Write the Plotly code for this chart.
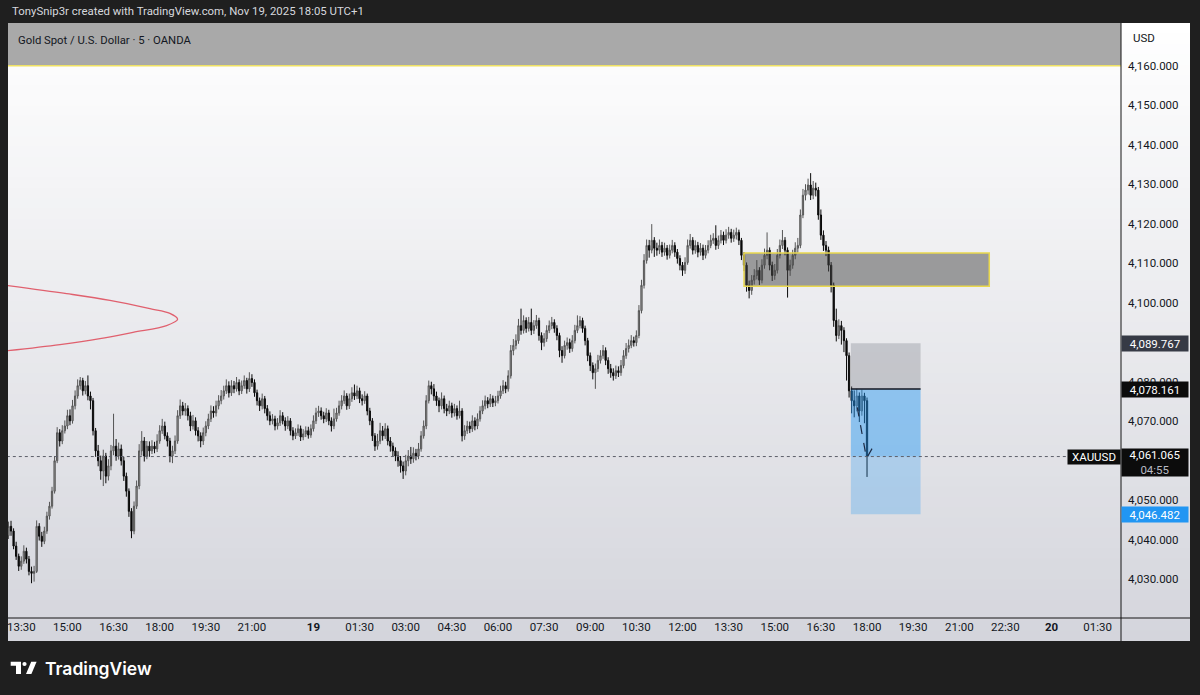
import plotly.graph_objects as go

# ---------------- data (5-minute XAUUSD candles, Nov 18 13:05 -> Nov 19 18:00, UTC+1) ----------------
opens = [
4041.0, 4043.4, 4042.2, 4038.4, 4035.8, 4033.3, 4034.6, 4037.1, 4035.1, 4032.0,
4031.5, 4032.0, 4043.4, 4040.9, 4039.6, 4042.2, 4046.0, 4048.5, 4052.3, 4060.0,
4067.1, 4065.0, 4067.6, 4068.8, 4071.4, 4070.1, 4073.9, 4076.4, 4079.0, 4080.3,
4077.7, 4079.0, 4076.4, 4075.2, 4067.6, 4062.5, 4060.0, 4057.4, 4061.2, 4056.1,
4058.7, 4062.5, 4063.7, 4061.2, 4063.0, 4060.0, 4056.1, 4052.3, 4047.2, 4042.2,
4048.5, 4053.6, 4062.5, 4065.0, 4061.2, 4063.7, 4062.5, 4063.7, 4063.0, 4065.0,
4067.6, 4068.8, 4066.3, 4065.0, 4061.2, 4062.5, 4065.0, 4071.4, 4073.9, 4072.6,
4073.2, 4071.4, 4068.8, 4070.1, 4067.6, 4066.3, 4065.0, 4067.1, 4068.8, 4070.6,
4072.6, 4072.1, 4073.9, 4075.2, 4076.4, 4077.7, 4079.0, 4077.2, 4079.0, 4078.2,
4079.8, 4077.7, 4079.0, 4080.3, 4078.2, 4080.8, 4079.8, 4077.2, 4075.2, 4073.9,
4075.7, 4073.2, 4071.4, 4070.1, 4070.6, 4068.8, 4069.6, 4071.4, 4070.1, 4068.8,
4070.1, 4067.6, 4066.3, 4067.1, 4068.1, 4066.0, 4066.8, 4067.6, 4066.5,
4068.1, 4070.1, 4072.1, 4072.6, 4071.4, 4070.6, 4072.1, 4070.1, 4068.8, 4070.6,
4072.1, 4073.9, 4075.2, 4076.4, 4073.9, 4075.7, 4077.2, 4076.4, 4077.7, 4075.7,
4075.2, 4076.4, 4072.6, 4070.1, 4066.3, 4063.7, 4065.0, 4067.6, 4066.3, 4068.1,
4065.0, 4063.7, 4062.5, 4061.2, 4060.0, 4058.7, 4057.4, 4060.0, 4061.2, 4060.5,
4061.9, 4061.2, 4063.0, 4066.3, 4068.8, 4075.2, 4079.0, 4078.2, 4076.4, 4075.2,
4073.9, 4075.7, 4073.2, 4072.6, 4073.9, 4072.1, 4073.2, 4071.4, 4072.6, 4066.3,
4067.6, 4068.8, 4068.1, 4070.1, 4068.8, 4070.6, 4072.6, 4073.9, 4075.2, 4074.4,
4075.7, 4074.7, 4075.2, 4076.4, 4077.7, 4079.0, 4078.2, 4081.5, 4087.9, 4089.2,
4090.4, 4094.2, 4093.0, 4095.5, 4093.5, 4095.0, 4093.0, 4094.2, 4095.5, 4091.7,
4089.9, 4090.9, 4093.0, 4094.2, 4095.0, 4093.5, 4091.7, 4087.9, 4086.6, 4089.2,
4089.9, 4088.4, 4090.4, 4093.0, 4094.2, 4095.5, 4093.5, 4090.4, 4086.6, 4084.1,
4082.3, 4083.3, 4085.4, 4086.6, 4087.9, 4085.4, 4083.3, 4082.3, 4081.5, 4082.8,
4082.3, 4084.1, 4086.6, 4088.4, 4089.2, 4090.4, 4089.9, 4091.7, 4098.0, 4104.4,
4110.7, 4114.5, 4113.3, 4115.8, 4113.8, 4113.3, 4114.5, 4112.8, 4113.8, 4112.0,
4113.3, 4114.5, 4112.8, 4111.2, 4109.5, 4108.2, 4110.2, 4114.5, 4115.8, 4113.3,
4114.5, 4112.8, 4113.8, 4112.0, 4113.3, 4114.5, 4115.8, 4116.3, 4114.5, 4115.8,
4117.1, 4115.8, 4117.1, 4117.8, 4116.3, 4117.1, 4117.8, 4115.8, 4112.0, 4109.5,
4104.4, 4103.1, 4105.7, 4106.9, 4108.2, 4105.7, 4109.5, 4112.0, 4113.3, 4109.5,
4106.9, 4108.2, 4112.0, 4114.5, 4115.8, 4113.3, 4108.2, 4109.5, 4112.0, 4113.8,
4114.5, 4122.2, 4127.2, 4128.5, 4129.8, 4127.2, 4129.0, 4128.5, 4122.2, 4117.1,
4114.5, 4113.3, 4109.5, 4104.4, 4095.5, 4091.7, 4094.2, 4093.0, 4090.4, 4086.6,
4077.7, 4075.2, 4073.9, 4076.4, 4072.6, 4076.4, 4075.2,
]
highs = [
4044.6, 4044.8, 4042.9, 4039.5, 4036.5, 4035.8, 4038.6, 4038.0, 4035.9, 4033.2,
4033.4, 4044.9, 4044.2, 4042.0, 4043.3, 4047.1, 4049.6, 4053.4, 4061.2, 4068.5,
4068.0, 4069.0, 4070.2, 4072.9, 4073.0, 4075.4, 4077.8, 4080.6, 4081.2, 4081.0,
4080.2, 4081.6, 4077.5, 4075.9, 4068.3, 4064.0, 4061.3, 4062.8, 4062.0, 4060.4,
4064.0, 4071.9, 4065.5, 4064.6, 4064.1, 4061.0, 4057.0, 4053.0, 4048.0, 4049.7,
4055.0, 4064.2, 4067.5, 4066.0, 4065.0, 4064.9, 4065.2, 4064.8, 4066.7, 4069.0,
4070.6, 4069.9, 4067.2, 4065.8, 4063.8, 4066.4, 4072.8, 4075.5, 4074.9, 4074.6,
4074.0, 4072.4, 4071.6, 4071.0, 4068.5, 4067.2, 4068.4, 4070.0, 4071.9, 4074.0,
4073.8, 4075.2, 4076.6, 4077.9, 4079.0, 4080.6, 4080.1, 4080.4, 4080.2, 4081.2,
4080.6, 4080.3, 4081.6, 4081.0, 4082.4, 4081.9, 4080.6, 4078.0, 4076.0, 4077.0,
4076.4, 4074.1, 4072.5, 4071.8, 4071.4, 4070.8, 4072.8, 4072.3, 4071.0, 4071.3,
4070.8, 4068.5, 4068.2, 4069.2, 4068.9, 4068.0, 4068.7, 4068.6, 4069.2,
4071.5, 4073.4, 4073.9, 4073.5, 4072.4, 4073.3, 4072.9, 4071.0, 4073.2, 4073.4,
4075.2, 4076.6, 4077.8, 4077.1, 4077.0, 4078.6, 4079.3, 4079.0, 4078.5, 4076.8,
4077.6, 4077.0, 4073.4, 4070.8, 4067.0, 4066.8, 4069.6, 4068.8, 4069.5, 4068.9,
4066.0, 4064.6, 4063.4, 4062.4, 4061.2, 4059.8, 4061.5, 4062.7, 4063.5, 4063.4,
4063.0, 4064.5, 4067.5, 4070.2, 4076.6, 4080.3, 4080.0, 4079.4, 4077.5, 4076.0,
4077.3, 4076.5, 4074.4, 4075.2, 4074.7, 4074.4, 4074.0, 4075.2, 4073.3, 4069.0,
4070.1, 4069.9, 4071.5, 4071.0, 4072.0, 4073.8, 4075.3, 4076.5, 4076.1, 4076.9,
4076.5, 4076.4, 4077.7, 4079.0, 4080.4, 4080.0, 4082.9, 4089.3, 4090.8, 4092.0,
4095.9, 4098.5, 4096.8, 4096.3, 4096.4, 4098.5, 4095.6, 4096.9, 4096.2, 4092.5,
4092.3, 4094.3, 4095.5, 4096.4, 4095.8, 4094.3, 4092.4, 4089.0, 4090.4, 4091.2,
4090.9, 4091.8, 4094.4, 4096.8, 4096.6, 4096.2, 4094.2, 4091.1, 4087.4, 4084.9,
4084.6, 4086.8, 4088.0, 4089.3, 4088.7, 4086.2, 4084.5, 4083.4, 4084.1, 4083.9,
4085.5, 4088.0, 4089.8, 4090.7, 4091.8, 4091.4, 4093.0, 4099.4, 4105.8, 4112.3,
4116.0, 4115.9, 4119.9, 4116.6, 4115.2, 4116.0, 4115.4, 4115.2, 4114.6, 4114.7,
4115.9, 4115.3, 4113.6, 4112.0, 4110.3, 4111.5, 4116.0, 4117.4, 4116.6, 4115.8,
4115.4, 4115.1, 4114.7, 4114.6, 4115.8, 4117.2, 4117.6, 4119.6, 4117.0, 4118.4,
4118.0, 4118.6, 4119.2, 4118.7, 4118.5, 4119.0, 4118.5, 4116.4, 4112.8, 4110.2,
4105.6, 4107.0, 4108.5, 4110.8, 4109.0, 4111.0, 4113.7, 4117.8, 4114.0, 4110.4,
4109.8, 4113.6, 4116.0, 4118.4, 4116.6, 4114.0, 4110.9, 4113.4, 4115.3, 4116.4,
4123.6, 4128.8, 4130.0, 4131.4, 4132.8, 4130.8, 4130.4, 4129.3, 4123.6, 4118.3,
4115.6, 4114.2, 4110.3, 4105.1, 4098.5, 4095.8, 4095.4, 4093.8, 4091.0, 4087.4,
4078.8, 4077.8, 4078.2, 4077.3, 4078.0, 4077.2, 4076.0,
]
lows = [
4040.2, 4041.0, 4037.6, 4034.9, 4032.1, 4032.4, 4033.9, 4034.0, 4031.0, 4029.0,
4029.4, 4031.6, 4039.8, 4038.2, 4038.9, 4041.5, 4045.1, 4047.9, 4051.7, 4059.4,
4063.6, 4064.2, 4066.9, 4068.0, 4069.0, 4069.4, 4073.0, 4075.7, 4078.0, 4076.5,
4076.8, 4075.3, 4073.0, 4066.4, 4061.0, 4058.6, 4055.2, 4053.6, 4054.3, 4055.0,
4057.6, 4061.4, 4060.0, 4060.3, 4058.8, 4054.9, 4050.9, 4045.8, 4040.4, 4041.4,
4047.8, 4052.8, 4061.3, 4059.8, 4060.4, 4061.0, 4061.7, 4061.9, 4062.2, 4064.3,
4066.8, 4065.4, 4063.6, 4059.6, 4059.4, 4061.7, 4064.3, 4070.6, 4071.5, 4071.4,
4070.2, 4067.5, 4067.9, 4066.4, 4064.9, 4063.4, 4064.0, 4066.2, 4068.0, 4069.8,
4070.9, 4071.2, 4073.0, 4074.3, 4075.5, 4076.9, 4076.0, 4076.4, 4077.1, 4077.5,
4076.6, 4076.9, 4078.2, 4077.0, 4077.4, 4078.7, 4076.2, 4074.0, 4072.6, 4073.0,
4072.0, 4070.2, 4069.0, 4069.2, 4067.7, 4067.9, 4068.8, 4069.2, 4067.6, 4068.0,
4066.4, 4065.2, 4065.5, 4066.3, 4065.0, 4065.2, 4066.0, 4065.6, 4065.8,
4067.4, 4069.3, 4071.1, 4070.4, 4069.5, 4069.8, 4069.0, 4067.4, 4068.0, 4069.9,
4071.4, 4073.0, 4074.4, 4072.9, 4073.1, 4074.9, 4075.4, 4075.6, 4074.6, 4074.0,
4074.4, 4071.5, 4069.0, 4065.0, 4062.5, 4062.8, 4064.2, 4065.1, 4065.5, 4063.9,
4062.3, 4061.0, 4059.9, 4058.5, 4057.0, 4055.4, 4056.3, 4058.6, 4059.2, 4059.5,
4060.1, 4060.4, 4062.3, 4065.6, 4068.0, 4074.5, 4076.8, 4075.2, 4073.9, 4072.3,
4073.0, 4072.0, 4071.3, 4071.8, 4070.9, 4071.2, 4070.4, 4070.7, 4064.9, 4065.3,
4066.8, 4067.0, 4067.3, 4067.7, 4068.0, 4069.9, 4071.8, 4073.0, 4073.3, 4073.6,
4073.6, 4073.8, 4074.5, 4075.7, 4076.9, 4077.1, 4077.5, 4080.8, 4086.7, 4088.2,
4089.6, 4091.9, 4092.2, 4092.4, 4092.7, 4091.8, 4092.1, 4093.4, 4090.4, 4088.0,
4088.9, 4090.1, 4092.3, 4093.3, 4092.4, 4090.5, 4086.2, 4084.8, 4085.9, 4088.1,
4087.3, 4087.6, 4089.7, 4092.3, 4093.5, 4092.4, 4089.2, 4085.2, 4082.7, 4080.6,
4078.2, 4082.5, 4084.6, 4085.8, 4084.2, 4082.0, 4081.0, 4080.3, 4080.7, 4081.2,
4081.5, 4083.4, 4085.8, 4087.4, 4088.5, 4088.9, 4089.0, 4091.0, 4097.3, 4103.6,
4109.9, 4111.4, 4112.5, 4111.6, 4111.9, 4112.3, 4111.6, 4111.9, 4110.9, 4111.2,
4112.5, 4111.6, 4109.9, 4108.2, 4106.8, 4107.3, 4109.6, 4113.7, 4112.2, 4112.4,
4111.5, 4111.9, 4110.8, 4111.2, 4112.5, 4113.8, 4114.9, 4113.4, 4113.6, 4115.0,
4114.6, 4115.0, 4116.2, 4115.2, 4115.4, 4116.0, 4114.6, 4110.8, 4108.0, 4102.8,
4101.1, 4102.0, 4104.6, 4105.9, 4104.5, 4104.9, 4108.6, 4111.0, 4108.2, 4105.5,
4105.8, 4107.4, 4111.2, 4113.6, 4112.0, 4101.3, 4106.8, 4108.6, 4111.0, 4112.6,
4113.8, 4121.4, 4125.9, 4127.4, 4126.0, 4126.2, 4126.9, 4121.0, 4115.9, 4113.1,
4111.8, 4107.9, 4102.6, 4093.9, 4090.2, 4090.8, 4089.4, 4087.5, 4080.3, 4076.0,
4072.0, 4071.0, 4072.5, 4069.8, 4071.4, 4069.5, 4055.9,
]
closes = [
4043.4, 4042.2, 4038.4, 4035.8, 4033.3, 4034.6, 4037.1, 4035.1, 4032.0, 4031.5,
4032.0, 4043.4, 4040.9, 4039.6, 4042.2, 4046.0, 4048.5, 4052.3, 4060.0, 4067.1,
4065.0, 4067.6, 4068.8, 4071.4, 4070.1, 4073.9, 4076.4, 4079.0, 4080.3, 4077.7,
4079.0, 4076.4, 4075.2, 4067.6, 4062.5, 4060.0, 4057.4, 4061.2, 4056.1, 4058.7,
4062.5, 4063.7, 4061.2, 4063.0, 4060.0, 4056.1, 4052.3, 4047.2, 4042.2, 4048.5,
4053.6, 4062.5, 4065.0, 4061.2, 4063.7, 4062.5, 4063.7, 4063.0, 4065.0, 4067.6,
4068.8, 4066.3, 4065.0, 4061.2, 4062.5, 4065.0, 4071.4, 4073.9, 4072.6, 4073.2,
4071.4, 4068.8, 4070.1, 4067.6, 4066.3, 4065.0, 4067.1, 4068.8, 4070.6, 4072.6,
4072.1, 4073.9, 4075.2, 4076.4, 4077.7, 4079.0, 4077.2, 4079.0, 4078.2, 4079.8,
4077.7, 4079.0, 4080.3, 4078.2, 4080.8, 4079.8, 4077.2, 4075.2, 4073.9, 4075.7,
4073.2, 4071.4, 4070.1, 4070.6, 4068.8, 4069.6, 4071.4, 4070.1, 4068.8, 4070.1,
4067.6, 4066.3, 4067.1, 4068.1, 4066.0, 4066.8, 4067.6, 4066.5, 4068.1,
4070.1, 4072.1, 4072.6, 4071.4, 4070.6, 4072.1, 4070.1, 4068.8, 4070.6, 4072.1,
4073.9, 4075.2, 4076.4, 4073.9, 4075.7, 4077.2, 4076.4, 4077.7, 4075.7, 4075.2,
4076.4, 4072.6, 4070.1, 4066.3, 4063.7, 4065.0, 4067.6, 4066.3, 4068.1, 4065.0,
4063.7, 4062.5, 4061.2, 4060.0, 4058.7, 4057.4, 4060.0, 4061.2, 4060.5, 4061.9,
4061.2, 4063.0, 4066.3, 4068.8, 4075.2, 4079.0, 4078.2, 4076.4, 4075.2, 4073.9,
4075.7, 4073.2, 4072.6, 4073.9, 4072.1, 4073.2, 4071.4, 4072.6, 4066.3, 4067.6,
4068.8, 4068.1, 4070.1, 4068.8, 4070.6, 4072.6, 4073.9, 4075.2, 4074.4, 4075.7,
4074.7, 4075.2, 4076.4, 4077.7, 4079.0, 4078.2, 4081.5, 4087.9, 4089.2, 4090.4,
4094.2, 4093.0, 4095.5, 4093.5, 4095.0, 4093.0, 4094.2, 4095.5, 4091.7, 4089.9,
4090.9, 4093.0, 4094.2, 4095.0, 4093.5, 4091.7, 4087.9, 4086.6, 4089.2, 4089.9,
4088.4, 4090.4, 4093.0, 4094.2, 4095.5, 4093.5, 4090.4, 4086.6, 4084.1, 4082.3,
4083.3, 4085.4, 4086.6, 4087.9, 4085.4, 4083.3, 4082.3, 4081.5, 4082.8, 4082.3,
4084.1, 4086.6, 4088.4, 4089.2, 4090.4, 4089.9, 4091.7, 4098.0, 4104.4, 4110.7,
4114.5, 4113.3, 4115.8, 4113.8, 4113.3, 4114.5, 4112.8, 4113.8, 4112.0, 4113.3,
4114.5, 4112.8, 4111.2, 4109.5, 4108.2, 4110.2, 4114.5, 4115.8, 4113.3, 4114.5,
4112.8, 4113.8, 4112.0, 4113.3, 4114.5, 4115.8, 4116.3, 4114.5, 4115.8, 4117.1,
4115.8, 4117.1, 4117.8, 4116.3, 4117.1, 4117.8, 4115.8, 4112.0, 4109.5, 4104.4,
4103.1, 4105.7, 4106.9, 4108.2, 4105.7, 4109.5, 4112.0, 4113.3, 4109.5, 4106.9,
4108.2, 4112.0, 4114.5, 4115.8, 4113.3, 4108.2, 4109.5, 4112.0, 4113.8, 4114.5,
4122.2, 4127.2, 4128.5, 4129.8, 4127.2, 4129.0, 4128.5, 4122.2, 4117.1, 4114.5,
4113.3, 4109.5, 4104.4, 4095.5, 4091.7, 4094.2, 4093.0, 4090.4, 4086.6, 4077.7,
4075.2, 4073.9, 4076.4, 4072.6, 4076.4, 4075.2, 4061.065,
]

# time axis: bar offsets (5-min bars from Nov 18 13:05, session break 23:00-00:00 skipped)
tick_bars = [5, 23, 41, 59, 77, 95, 119, 137, 155, 173, 191, 209, 227, 245,
             263, 281, 299, 317, 335, 353, 371, 389, 407, 425]
tick_labels = ["13:30", "15:00", "16:30", "18:00", "19:30", "21:00", "<b>19</b>", "01:30",
               "03:00", "04:30", "06:00", "07:30", "09:00", "10:30", "12:00", "13:30",
               "15:00", "16:30", "18:00", "19:30", "21:00", "22:30", "<b>20</b>", "01:30"]
# 4,060.000 is hidden behind the last-price label in the reference
price_ticks = [4030, 4040, 4050, 4070, 4080, 4090, 4100, 4110, 4120, 4130, 4140, 4150, 4160]

# drawings
supply_zone = dict(bar0=287.0, bar1=382.7, low=4104.2, high=4112.6)
top_zone_low = 4160.0
position = dict(bar0=328.7, bar1=355.9, stop=4089.767, entry=4078.161, target=4046.482)
last_price = 4061.065
countdown = "04:55"
curve_bars = [-1.0, 22.7, 39.6, 55.2, 63.0, 66.0, 61.7, 48.6, 35.7, 20.1, -1.0]
curve_prices = [4104.4, 4102.3, 4100.6, 4098.5, 4097.3, 4095.8, 4094.2, 4092.5, 4090.9, 4089.4, 4087.8]

# ---------------- figure ----------------
FONT = "Roboto"
L, R, T, B = 8, 79, 23, 77
W, H = 1200, 695
PW, PH = W - L - R, H - T - B


def px(xp):
    return (xp - L) / PW


def py(yp):
    return (H - B - yp) / PH


bars = list(range(len(closes)))
fig = go.Figure()
fig.add_trace(go.Candlestick(
    x=bars, open=opens, high=highs, low=lows, close=closes,
    increasing=dict(line=dict(color="#555555", width=1), fillcolor="#a3a3a3"),
    decreasing=dict(line=dict(color="#0a0a0a", width=1), fillcolor="#0a0a0a"),
    whiskerwidth=0, hoverinfo="skip", showlegend=False,
))
fig.add_trace(go.Scatter(
    x=curve_bars, y=curve_prices, mode="lines",
    line=dict(color="#e0606e", width=1.3, shape="spline", smoothing=1.0),
    hoverinfo="skip", showlegend=False,
))

shapes = []
# panel gradient background (paper coordinates)
y_top, y_bot = 1.0, py(641)
c_top, c_bot = (255, 255, 255), (212, 213, 220)
shapes.append(dict(type="rect", xref="paper", yref="paper", x0=0, x1=px(1190), y0=y_bot, y1=y_top,
                   fillcolor="rgb(234,235,238)", line=dict(width=0), layer="below"))
n = 60
ov = 2.0 / PH
for k in range(n):
    f = (k + 0.5) / n
    col = tuple(int(round(c_top[j] + (c_bot[j] - c_top[j]) * f)) for j in range(3))
    ya = y_top - (y_top - y_bot) * k / n
    yb = y_top - (y_top - y_bot) * (k + 1) / n
    shapes.append(dict(type="rect", xref="paper", yref="paper", x0=0, x1=px(1190),
                       y0=max(yb - ov, y_bot), y1=ya, fillcolor="rgb(%d,%d,%d)" % col,
                       line=dict(width=0), layer="below"))

# top grey zone with yellow border
shapes.append(dict(type="rect", xref="x", yref="y", x0=-10, x1=460, y0=top_zone_low, y1=4190,
                   fillcolor="#a9a9a9", line=dict(color="#efe163", width=1.5), layer="below"))
# supply zone
shapes.append(dict(type="rect", xref="x", yref="y", x0=supply_zone["bar0"], x1=supply_zone["bar1"],
                   y0=supply_zone["low"], y1=supply_zone["high"],
                   fillcolor="rgba(70,70,70,0.5)", line=dict(color="#e9d84e", width=1.5), layer="above"))
# short position tool
shapes.append(dict(type="rect", xref="x", yref="y", x0=position["bar0"], x1=position["bar1"],
                   y0=position["entry"], y1=position["stop"],
                   fillcolor="rgba(120,123,134,0.32)", line=dict(width=0), layer="above"))
shapes.append(dict(type="rect", xref="x", yref="y", x0=position["bar0"], x1=position["bar1"],
                   y0=last_price, y1=position["entry"],
                   fillcolor="rgba(33,150,243,0.45)", line=dict(width=0), layer="above"))
shapes.append(dict(type="rect", xref="x", yref="y", x0=position["bar0"], x1=position["bar1"],
                   y0=position["target"], y1=last_price,
                   fillcolor="rgba(33,150,243,0.27)", line=dict(width=0), layer="above"))
shapes.append(dict(type="line", xref="x", yref="y", x0=position["bar0"], x1=position["bar1"],
                   y0=position["entry"], y1=position["entry"],
                   line=dict(color="#131722", width=1.5), layer="above"))
shapes.append(dict(type="path", xref="x", yref="y",
                   path="M 331.2,4073.5 L 334.8,4060.6 L 337.6,4063.8",
                   line=dict(color="#1c2a44", width=1.2, dash="dash"), layer="above"))
# last price dotted line
shapes.append(dict(type="line", xref="x", yref="y", x0=-10, x1=460, y0=last_price, y1=last_price,
                   line=dict(color="#5d606b", width=1, dash="dot"), layer="above"))
# dividers
shapes.append(dict(type="line", xref="paper", yref="paper", x0=1, x1=1, y0=py(641), y1=1,
                   line=dict(color="#141414", width=1), layer="above"))
shapes.append(dict(type="line", xref="paper", yref="paper", x0=0, x1=px(1190), y0=0, y1=0,
                   line=dict(color="#141414", width=1), layer="above"))
# TradingView logo glyph
shapes.append(dict(type="path", xref="paper", yref="paper",
                   path="M %f,%f L %f,%f L %f,%f L %f,%f L %f,%f L %f,%f Z" % (
                       px(10.7), py(661.7), px(21.0), py(661.7), px(21.0), py(674.0),
                       px(16.0), py(674.0), px(16.0), py(665.8), px(10.7), py(665.8)),
                   fillcolor="#ffffff", line=dict(width=0), layer="above"))
shapes.append(dict(type="circle", xref="paper", yref="paper",
                   x0=px(22.4), x1=px(26.6), y0=py(666.1), y1=py(661.9),
                   fillcolor="#ffffff", line=dict(width=0), layer="above"))
shapes.append(dict(type="path", xref="paper", yref="paper",
                   path="M %f,%f L %f,%f L %f,%f L %f,%f Z" % (
                       px(26.0), py(674.0), px(31.4), py(674.0), px(36.6), py(661.7), px(31.2), py(661.7)),
                   fillcolor="#ffffff", line=dict(width=0), layer="above"))

ann = []
ann.append(dict(xref="paper", yref="paper", x=px(10), y=py(11), xanchor="left", yanchor="middle",
                text="TonySnip3r created with TradingView.com, Nov 19, 2025 18:05 UTC+1",
                showarrow=False, font=dict(family=FONT, size=11.4, color="#d6d8de")))
ann.append(dict(xref="paper", yref="paper", x=px(16), y=py(40), xanchor="left", yanchor="middle",
                text="Gold Spot / U.S. Dollar · 5 · OANDA",
                showarrow=False, font=dict(family=FONT, size=11.3, color="#131722")))
ann.append(dict(xref="paper", yref="paper", x=px(1131), y=py(38), xanchor="left", yanchor="middle",
                text="USD", showarrow=False, font=dict(family=FONT, size=11.5, color="#131722")))
ann.append(dict(xref="paper", yref="paper", x=px(43), y=py(668), xanchor="left", yanchor="middle",
                text="TradingView", showarrow=False,
                font=dict(family="Inter", size=17.5, color="#ffffff", weight=600)))


def price_label(price, bg, text=None, h=13, yshift=0):
    ann.append(dict(xref="paper", yref="y", x=1.0, y=price, xanchor="left", yanchor="middle",
                    text=text if text else f"{price:,.3f}", showarrow=False, align="center",
                    width=64, height=h, borderpad=1, bgcolor=bg, yshift=yshift,
                    font=dict(family=FONT, size=11.5, color="#ffffff")))


price_label(position["stop"], "#363a45")
price_label(position["entry"], "#0c0c0c")
price_label(position["target"], "#2196f3")
price_label(last_price, "#0c0c0c",
            text=f"{last_price:,.3f}<br><span style='color:#b8bbc4'>{countdown}</span>",
            h=25, yshift=-6)
ann.append(dict(xref="paper", yref="y", x=1.0, y=last_price, xanchor="right", yanchor="middle",
                text="XAUUSD", showarrow=False, width=50, height=12, borderpad=1, bgcolor="#0c0c0c",
                font=dict(family=FONT, size=11.5, color="#ffffff")))

fig.update_layout(
    width=W, height=H, autosize=False,
    margin=dict(l=L, r=R, t=T, b=B, pad=0),
    paper_bgcolor="#1f1f1f", plot_bgcolor="rgba(0,0,0,0)",
    showlegend=False, shapes=shapes, annotations=ann,
    xaxis=dict(range=[-0.18, 434.1], rangeslider=dict(visible=False), showgrid=False,
               zeroline=False, showline=False, ticks="", tickmode="array",
               tickvals=tick_bars, ticktext=tick_labels,
               tickfont=dict(family=FONT, size=11.5, color="#131722"), fixedrange=True),
    yaxis=dict(side="right", range=[4020.2, 4170.8], showgrid=False, zeroline=False,
               showline=False, ticks="", tickmode="array", tickvals=price_ticks,
               ticktext=[f"{v:,.3f}" for v in price_ticks], ticklabelstandoff=6,
               tickfont=dict(family=FONT, size=11.5, color="#131722"), fixedrange=True),
)

fig.write_html("out.html", config={"displayModeBar": False},
               post_script="document.body.style.margin='0px';document.body.style.background='#1f1f1f';")
